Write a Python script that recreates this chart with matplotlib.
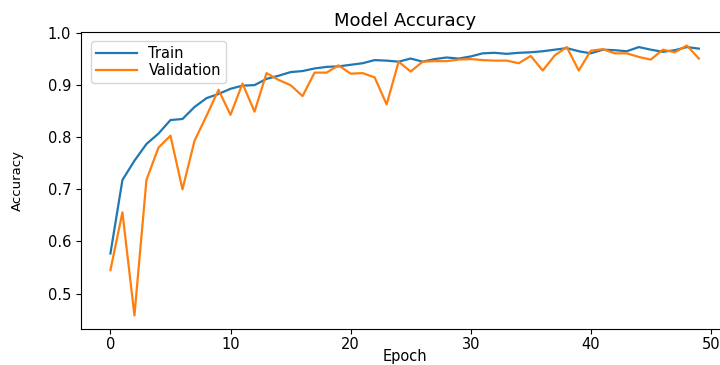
import numpy as np
import matplotlib
matplotlib.use("Agg")
import matplotlib.pyplot as plt

epochs = np.arange(50)

train_acc = [0.577, 0.718, 0.755, 0.787, 0.807, 0.833, 0.835, 0.858, 0.875, 0.883,
             0.893, 0.899, 0.900, 0.912, 0.918, 0.925, 0.927, 0.932, 0.935, 0.936,
             0.939, 0.942, 0.948, 0.947, 0.945, 0.951, 0.945, 0.950, 0.953, 0.951,
             0.955, 0.961, 0.962, 0.960, 0.962, 0.963, 0.965, 0.968, 0.971, 0.965,
             0.961, 0.968, 0.967, 0.965, 0.973, 0.968, 0.964, 0.967, 0.973, 0.970]

val_acc = [0.545, 0.656, 0.458, 0.718, 0.780, 0.803, 0.700, 0.793, 0.841, 0.891,
           0.843, 0.903, 0.849, 0.923, 0.910, 0.900, 0.879, 0.924, 0.924, 0.938,
           0.922, 0.923, 0.915, 0.863, 0.945, 0.926, 0.945, 0.946, 0.946, 0.949,
           0.950, 0.948, 0.947, 0.947, 0.942, 0.956, 0.928, 0.957, 0.973, 0.928,
           0.966, 0.969, 0.961, 0.961, 0.954, 0.949, 0.968, 0.963, 0.976, 0.951]

fig = plt.figure(figsize=(7.2, 3.65), dpi=100)
ax = fig.add_axes([0.1125, 0.0986, 0.899, 0.8137])

ax.plot(epochs, train_acc, label="Train", lw=1.6)
ax.plot(epochs, val_acc, label="Validation", lw=1.6)

ax.set_title("Model Accuracy", fontsize=13, pad=4)
ax.set_xlabel("Epoch", fontsize=10.5)
ax.xaxis.set_label_coords(0.5, -0.068)
ax.set_ylabel("Accuracy", fontsize=9.5)
ax.yaxis.set_label_coords(-0.088, 0.5)
ax.tick_params(labelsize=10.5)
ax.tick_params(axis="x", pad=2)
ax.legend(loc="upper left", fontsize=10.5, borderpad=0.35, labelspacing=0.15,
          handlelength=2.8, bbox_to_anchor=(0.004, 0.995))

plt.savefig("out.png", dpi=100)
